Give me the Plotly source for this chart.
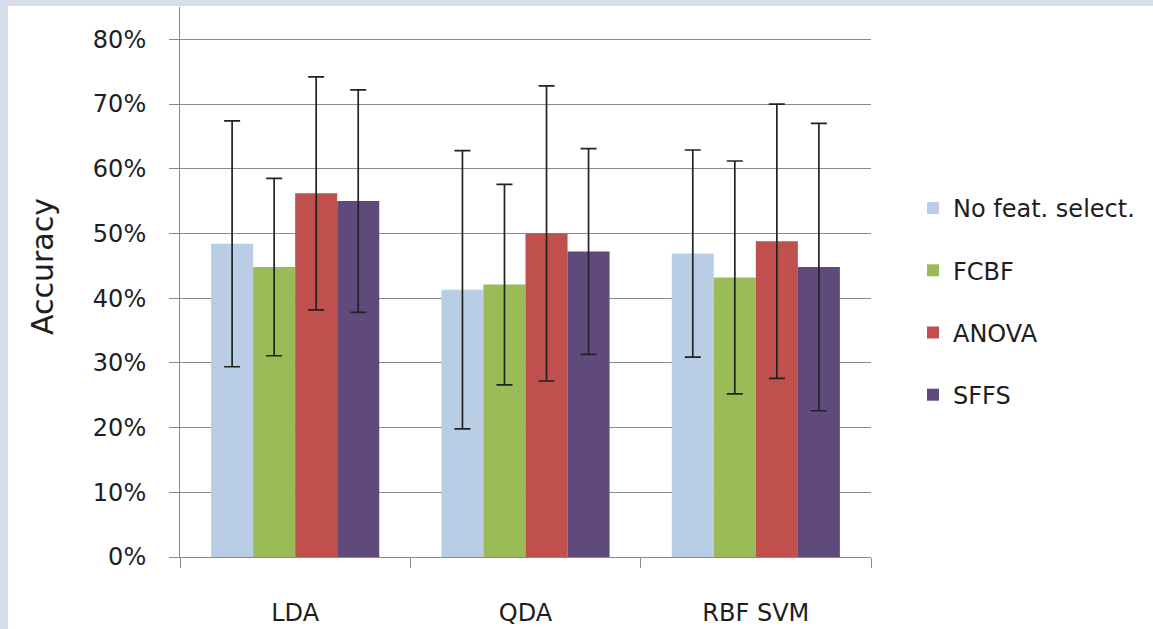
import plotly.graph_objects as go

categories = ["LDA", "QDA", "RBF SVM"]
series_names = ["No feat. select.", "FCBF", "ANOVA", "SFFS"]
no_feat = [0.484, 0.413, 0.469]
no_feat_err = [0.190, 0.215, 0.160]
fcbf = [0.448, 0.421, 0.432]
fcbf_err = [0.137, 0.155, 0.180]
anova = [0.562, 0.500, 0.488]
anova_err = [0.180, 0.228, 0.212]
sffs = [0.550, 0.472, 0.448]
sffs_err = [0.172, 0.159, 0.222]
colors = ["#B9CDE5", "#9BBB59", "#C0504D", "#604A7B"]
y_ticks = [0, 0.1, 0.2, 0.3, 0.4, 0.5, 0.6, 0.7, 0.8]
y_title = "Accuracy"

W, H = 1153, 629
ML, MR, MT, MB = 180, 282, 7, 72
FONT = "DejaVu Sans"
TXT = "#1e1e1e"
GRID = "#8a8a8a"

fig = go.Figure()
for name, vals, errs, col in zip(series_names, [no_feat, fcbf, anova, sffs],
                                 [no_feat_err, fcbf_err, anova_err, sffs_err], colors):
    fig.add_trace(go.Bar(
        x=categories, y=vals, name=name, legendgroup=name,
        marker=dict(color=col, line=dict(width=0)),
        error_y=dict(type="data", array=errs, visible=True,
                     color="#222222", thickness=1.7, width=8),
    ))

pw = W - ML - MR
ph = H - MT - MB
# border strips (light blue-gray) on left and top
border = "#D6DDEB"
fig.add_shape(type="rect", xref="paper", yref="paper", layer="below",
              x0=(0 - ML) / pw, x1=(8 - ML) / pw, y0=-MB / ph - 0.01, y1=1 + MT / ph + 0.01,
              fillcolor=border, line=dict(width=0))
fig.add_shape(type="rect", xref="paper", yref="paper", layer="below",
              x0=(0 - ML) / pw, x1=1 + MR / pw + 0.01, y0=1 + (MT - 6) / ph, y1=1 + MT / ph + 0.01,
              fillcolor=border, line=dict(width=0))

fig.add_annotation(
    text=y_title, textangle=-90, showarrow=False,
    xref="paper", yref="paper",
    x=(42 - ML) / pw, xanchor="center",
    y=(H - MB - 267) / ph, yanchor="middle",
    font=dict(family=FONT, size=30, color=TXT),
)

fig.update_layout(
    width=W, height=H,
    margin=dict(l=ML, r=MR, t=MT, b=MB, autoexpand=False),
    paper_bgcolor="white", plot_bgcolor="rgba(0,0,0,0)",
    barmode="group", bargap=0.27, bargroupgap=0,
    font=dict(family=FONT, size=24, color=TXT),
    legend=dict(
        x=(913 - ML) / pw, xanchor="left",
        y=(H - MB - 186) / ph, yanchor="top",
        font=dict(family=FONT, size=24, color=TXT),
        traceorder="grouped", tracegroupgap=28,
        bgcolor="rgba(0,0,0,0)", borderwidth=0,
    ),
    showlegend=True,
)
fig.update_yaxes(
    range=[0, 0.85], tickvals=y_ticks, tickformat=".0%",
    showgrid=True, gridcolor=GRID, gridwidth=1,
    showline=True, linecolor=GRID, linewidth=1,
    ticks="outside", ticklen=10, tickcolor=GRID, tickwidth=1,
    ticklabelstandoff=18, zeroline=False,
    tickfont=dict(family=FONT, size=24, color=TXT),
)
fig.update_xaxes(
    showline=True, linecolor=GRID, linewidth=1,
    ticks="outside", tickson="boundaries", ticklen=10, tickcolor=GRID, tickwidth=1,
    ticklabelstandoff=34, showgrid=False,
    tickfont=dict(family=FONT, size=24, color=TXT),
)

fig.write_html(
    "out.html",
    config={"displayModeBar": False},
    post_script="document.body.style.margin='0';document.body.style.overflow='hidden';",
)
